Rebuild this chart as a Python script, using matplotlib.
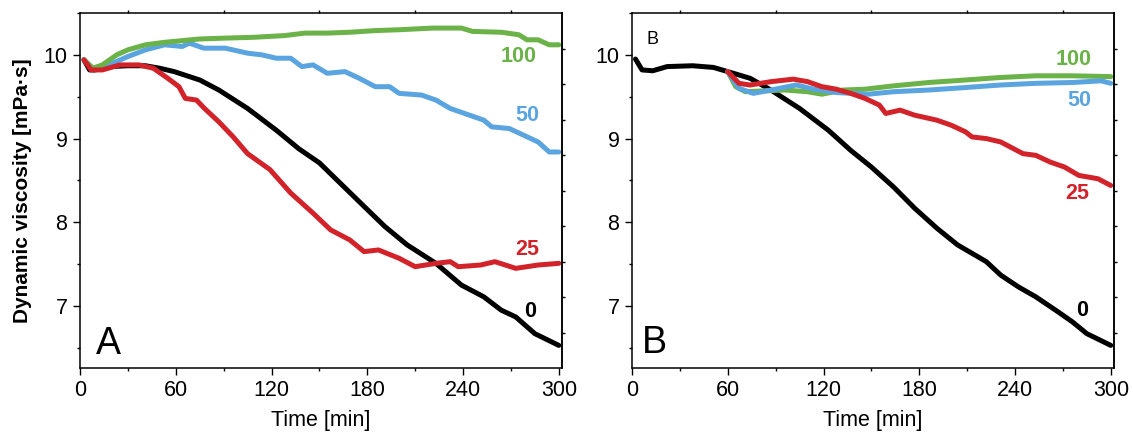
import matplotlib
matplotlib.use("Agg")
import matplotlib.pyplot as plt
from matplotlib.ticker import MultipleLocator

plt.rcParams['font.family'] = ['Liberation Sans', 'DejaVu Sans']

# ---------------- Data: panel A ----------------
tA_0 = [2.5, 6, 9.3, 18, 30, 41, 50, 59, 75, 87, 105, 123, 137, 150, 164, 178, 191, 205, 223, 239, 253, 264, 273, 285, 300]
vA_0 = [9.94, 9.82, 9.82, 9.86, 9.87, 9.87, 9.84, 9.80, 9.70, 9.58, 9.36, 9.10, 8.88, 8.71, 8.45, 8.19, 7.95, 7.73, 7.51, 7.25, 7.11, 6.95, 6.87, 6.67, 6.53]

tA_25 = [2.5, 7, 14, 25, 37, 46, 55, 62, 66, 73, 78, 87, 96, 105, 119, 132, 146, 157, 169, 178, 187, 200, 210, 223, 232, 237, 251, 260, 273, 287, 300]
vA_25 = [9.94, 9.82, 9.82, 9.88, 9.88, 9.84, 9.72, 9.62, 9.48, 9.46, 9.36, 9.20, 9.02, 8.82, 8.63, 8.35, 8.11, 7.91, 7.79, 7.65, 7.67, 7.57, 7.47, 7.51, 7.53, 7.47, 7.49, 7.53, 7.45, 7.49, 7.51]

tA_50 = [2.5, 8, 18, 30, 41, 53, 64, 68.5, 77.6, 91, 105, 114, 123, 132, 139, 146, 155, 166, 175, 185, 194, 200, 214, 223, 232, 244, 253, 258, 269, 278, 287, 294, 300]
vA_50 = [9.94, 9.84, 9.88, 9.98, 10.06, 10.12, 10.10, 10.14, 10.08, 10.08, 10.02, 10.00, 9.96, 9.96, 9.86, 9.88, 9.78, 9.80, 9.72, 9.62, 9.62, 9.54, 9.52, 9.46, 9.36, 9.28, 9.22, 9.14, 9.12, 9.04, 8.96, 8.84, 8.84]

tA_100 = [2.5, 8, 14, 23, 30, 41, 53, 64, 75, 91, 109, 128, 141, 155, 169, 185, 200, 221, 239, 246, 264, 275, 280, 287, 294, 300]
vA_100 = [9.94, 9.84, 9.88, 10.00, 10.06, 10.12, 10.15, 10.17, 10.19, 10.20, 10.21, 10.23, 10.26, 10.26, 10.27, 10.29, 10.30, 10.32, 10.32, 10.28, 10.27, 10.24, 10.18, 10.18, 10.12, 10.12]

# ---------------- Data: panel B ----------------
tB_0 = [2.2, 6.3, 13, 22, 38, 51, 60, 74, 87, 105, 123, 137, 150, 164, 177, 191, 204, 222, 231, 242, 253, 267, 276, 285, 300]
vB_0 = [9.95, 9.82, 9.81, 9.86, 9.87, 9.85, 9.80, 9.72, 9.58, 9.36, 9.10, 8.86, 8.66, 8.42, 8.17, 7.93, 7.73, 7.53, 7.37, 7.23, 7.11, 6.93, 6.81, 6.67, 6.53]

tB_25 = [60, 67, 74, 87, 101, 110, 119, 128, 137, 146, 155, 159, 168, 177, 191, 200, 209, 213, 222, 231, 245, 253, 262, 271, 280, 292, 300]
vB_25 = [9.80, 9.66, 9.64, 9.68, 9.71, 9.68, 9.62, 9.59, 9.54, 9.48, 9.40, 9.30, 9.34, 9.28, 9.22, 9.16, 9.08, 9.02, 9.00, 8.96, 8.82, 8.80, 8.72, 8.66, 8.56, 8.52, 8.44]

tB_50 = [60, 67, 76, 87, 103, 114, 128, 148, 164, 186, 209, 231, 253, 276, 294, 300]
vB_50 = [9.80, 9.60, 9.54, 9.58, 9.64, 9.59, 9.55, 9.53, 9.56, 9.58, 9.61, 9.64, 9.66, 9.67, 9.69, 9.66]

tB_100 = [60, 65, 71, 83, 96, 110, 119, 132, 146, 164, 186, 209, 231, 253, 276, 300]
vB_100 = [9.80, 9.62, 9.56, 9.57, 9.58, 9.56, 9.53, 9.58, 9.59, 9.63, 9.67, 9.70, 9.73, 9.75, 9.75, 9.74]

series_labels = ["0", "25", "50", "100"]
x_ticks = [0, 60, 120, 180, 240, 300]
y_ticks = [7, 8, 9, 10]

C_BLACK = "#000000"
C_RED = "#d2232a"
C_BLUE = "#5aa5e0"
C_GREEN = "#6bb249"

W, H = 1133, 440
fig = plt.figure(figsize=(W / 100, H / 100), dpi=100)

def px_axes(left, right, top, bottom):
    return fig.add_axes([left / W, 1 - bottom / H, (right - left) / W, (bottom - top) / H])

axA = px_axes(80, 562, 13, 368)
axB = px_axes(632, 1114, 13, 368)

LW = 3.6
FS = 15.5

def style(ax):
    ax.set_xlim(0, 302)
    ax.set_ylim(6.26, 10.5)
    ax.set_xticks(x_ticks)
    ax.set_yticks(y_ticks)
    ax.xaxis.set_minor_locator(MultipleLocator(30))
    ax.yaxis.set_minor_locator(MultipleLocator(0.5))
    ax.tick_params(which='major', direction='out', length=5, width=1, labelsize=FS, pad=4)
    ax.tick_params(which='minor', direction='out', length=2.5, width=1)
    ax.tick_params(axis='x', which='both', top=True)
    ax.tick_params(axis='x', which='major', top=False)
    for s in ax.spines.values():
        s.set_linewidth(1.1)
    ax.set_xlabel("Time [min]", fontsize=FS, labelpad=6)
    # right-side ticks (independent scale)
    tw = ax.twinx()
    tw.set_ylim(0, 10)
    tw.set_yticks(range(1, 10))
    tw.tick_params(direction='out', length=2.5, width=1, labelright=False)
    tw.spines['right'].set_linewidth(1.1)
    for s in ['top', 'left', 'bottom']:
        tw.spines[s].set_visible(False)
    return tw

style(axA)
style(axB)

kw = dict(lw=LW, solid_joinstyle='round', solid_capstyle='round')

# Panel A
axA.plot(tA_0, vA_0, color=C_BLACK, **kw)
axA.plot(tA_50, vA_50, color=C_BLUE, **kw)
axA.plot(tA_100, vA_100, color=C_GREEN, **kw)
axA.plot(tA_25, vA_25, color=C_RED, **kw)

axA.text(275, 9.98, series_labels[3], color=C_GREEN, fontsize=FS, fontweight='bold', ha='center', va='center')
axA.text(280, 9.28, series_labels[2], color=C_BLUE, fontsize=FS, fontweight='bold', ha='center', va='center')
axA.text(280, 7.67, series_labels[1], color=C_RED, fontsize=FS, fontweight='bold', ha='center', va='center')
axA.text(282, 6.93, series_labels[0], color=C_BLACK, fontsize=FS, fontweight='bold', ha='center', va='center')
axA.text(18, 6.55, "A", fontsize=27, ha='center', va='center')
axA.set_ylabel("Dynamic viscosity [mPa·s]", fontsize=15, fontweight='bold', labelpad=8)

# Panel B
axB.plot(tB_0, vB_0, color=C_BLACK, **kw)
axB.plot(tB_100, vB_100, color=C_GREEN, **kw)
axB.plot(tB_50, vB_50, color=C_BLUE, **kw)
axB.plot(tB_25, vB_25, color=C_RED, **kw)

axB.text(277, 9.94, series_labels[3], color=C_GREEN, fontsize=FS, fontweight='bold', ha='center', va='center')
axB.text(280, 9.46, series_labels[2], color=C_BLUE, fontsize=FS, fontweight='bold', ha='center', va='center')
axB.text(279, 8.35, series_labels[1], color=C_RED, fontsize=FS, fontweight='bold', ha='center', va='center')
axB.text(282, 6.95, series_labels[0], color=C_BLACK, fontsize=FS, fontweight='bold', ha='center', va='center')
axB.text(14, 6.56, "B", fontsize=27, ha='center', va='center')
axB.text(13, 10.18, "B", fontsize=13, ha='center', va='center')

fig.savefig("out.png", dpi=100)
